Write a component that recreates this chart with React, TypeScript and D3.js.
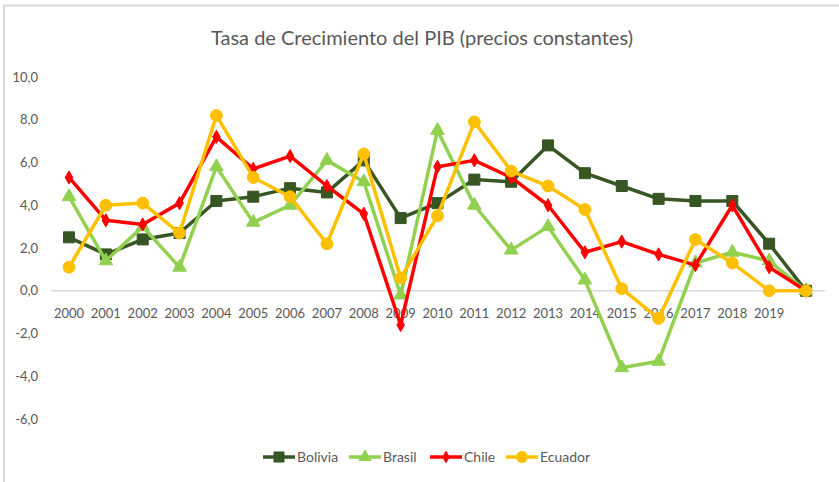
import React from "react";
import * as d3 from "d3";

const categories = ["2000","2001","2002","2003","2004","2005","2006","2007","2008","2009","2010","2011","2012","2013","2014","2015","2016","2017","2018","2019",""];
const bolivia = [2.5,1.7,2.4,2.7,4.2,4.4,4.8,4.6,6.1,3.4,4.1,5.2,5.1,6.8,5.5,4.9,4.3,4.2,4.2,2.2,0];
const brasil = [4.4,1.4,3.0,1.1,5.8,3.2,4.0,6.1,5.1,-0.2,7.5,4.0,1.9,3.0,0.5,-3.6,-3.3,1.3,1.8,1.4,0];
const chile = [5.3,3.3,3.1,4.1,7.2,5.7,6.3,4.9,3.6,-1.6,5.8,6.1,5.3,4.0,1.8,2.3,1.7,1.2,4.0,1.1,0];
const ecuador = [1.1,4.0,4.1,2.7,8.2,5.3,4.4,2.2,6.4,0.6,3.5,7.9,5.6,4.9,3.8,0.1,-1.3,2.4,1.3,0.0,0];
const yTicks = [-6,-4,-2,0,2,4,6,8,10];
const seriesNames = ["Bolivia","Brasil","Chile","Ecuador"];
const title = "Tasa de Crecimiento del PIB (precios constantes)";

const W = 839, H = 482;
const FONT = "Lato, 'Open Sans', sans-serif";
const TEXT = "#595959";

type Series = { name: string; values: number[]; color: string; symbol: d3.SymbolType; size: number };

const series: Series[] = [
  { name: seriesNames[0], values: bolivia, color: "#375623", symbol: d3.symbolSquare, size: 121 },
  { name: seriesNames[1], values: brasil, color: "#92D050", symbol: d3.symbolTriangle, size: 80 },
  { name: seriesNames[2], values: chile, color: "#FF0000", symbol: d3.symbolDiamond, size: 50 },
  { name: seriesNames[3], values: ecuador, color: "#FFC000", symbol: d3.symbolCircle, size: 110 },
];

const legendX = [263, 349, 430, 506];

export default function App() {
  const keys = categories.map((c, i) => c + "_" + i);
  const x = d3.scalePoint<string>().domain(keys).range([69, 806]);
  const y = d3.scaleLinear().domain([-6, 10]).range([419, 77]);
  const line = d3.line<number>().x((_, i) => x(keys[i]) as number).y(d => y(d));
  const fmt = (v: number) => d3.format(".1f")(v).replace(".", ",").replace("\u2212", "-");

  return (
    <svg width={W} height={H} style={{ position: "absolute", left: 0, top: 0, background: "#fff" }}>
      <rect x={0} y={0} width={W} height={H} fill="#fff" />
      <line x1={4} y1={5.5} x2={W} y2={5.5} stroke="#d9d9d9" strokeWidth={2} />
      <line x1={4} y1={5} x2={4} y2={H} stroke="#d9d9d9" strokeWidth={2} />
      <text x={422} y={45} textAnchor="middle" fontFamily={FONT} fontSize={20} fill={TEXT}>{title}</text>
      {yTicks.map(t => (
        <text key={t} x={38} y={y(t)} dy="0.35em" textAnchor="end" fontFamily={FONT} fontSize={13} fill={TEXT}>{fmt(t)}</text>
      ))}
      <line x1={51} x2={825} y1={y(0)} y2={y(0)} stroke="#d9d9d9" strokeWidth={1.5} />
      {categories.map((c, i) => (
        <text key={i} x={x(keys[i]) as number} y={313} dy="0.35em" textAnchor="middle" fontFamily={FONT} fontSize={13} fill={TEXT}>{c}</text>
      ))}
      {series.map(s => (
        <g key={s.name}>
          <path d={line(s.values) || ""} fill="none" stroke={s.color} strokeWidth={3.5} strokeLinejoin="round" />
          {s.values.map((v, i) => (
            <path key={i} d={d3.symbol().type(s.symbol).size(s.size)() || ""} transform={`translate(${x(keys[i])},${y(v)})`} fill={s.color} stroke={s.color} strokeWidth={1} />
          ))}
        </g>
      ))}
      {series.map((s, i) => (
        <g key={s.name} transform={`translate(${legendX[i]},457)`}>
          <line x1={0} x2={32} y1={0} y2={0} stroke={s.color} strokeWidth={3.5} />
          <path d={d3.symbol().type(s.symbol).size(s.size)() || ""} transform="translate(16,0)" fill={s.color} />
          <text x={34} y={0} dy="0.35em" fontFamily={FONT} fontSize={14} fill={TEXT}>{s.name}</text>
        </g>
      ))}
    </svg>
  );
}
